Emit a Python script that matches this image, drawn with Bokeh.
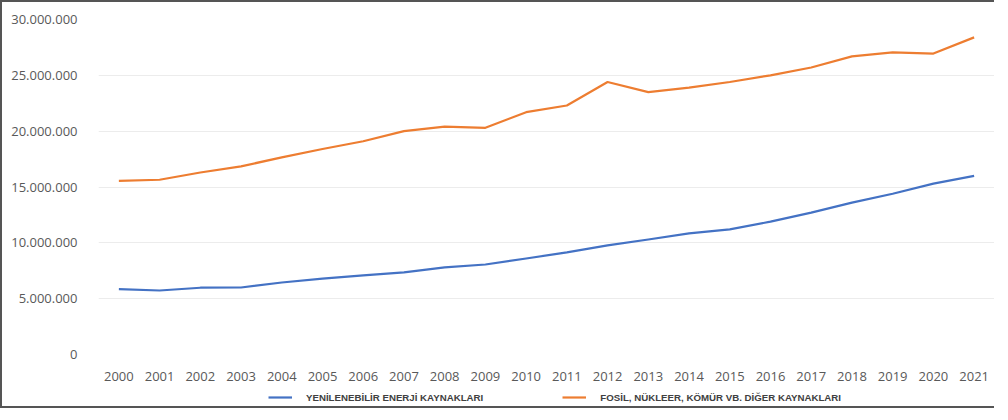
from bokeh.plotting import figure
from bokeh.layouts import column
from bokeh.models import FixedTicker, Legend, LegendItem, ColumnDataSource, Range1d
from bokeh.embed import file_html
from bokeh.resources import INLINE

years = [str(y) for y in range(2000, 2022)]
renewable = [5.85e6, 5.73e6, 5.98e6, 6.0e6, 6.45e6, 6.8e6, 7.08e6, 7.35e6, 7.8e6, 8.06e6, 8.6e6,
             9.14e6, 9.77e6, 10.3e6, 10.84e6, 11.2e6, 11.9e6, 12.7e6, 13.6e6, 14.4e6, 15.3e6, 16.0e6]
fossil = [15.55e6, 15.65e6, 16.3e6, 16.85e6, 17.65e6, 18.4e6, 19.1e6, 20.0e6, 20.4e6, 20.3e6, 21.7e6,
          22.3e6, 24.4e6, 23.5e6, 23.9e6, 24.4e6, 25.0e6, 25.7e6, 26.7e6, 27.05e6, 26.95e6, 28.4e6]
y_ticks = [0, 5e6, 10e6, 15e6, 20e6, 25e6, 30e6]
y_tick_labels = ["0", "5.000.000", "10.000.000", "15.000.000", "20.000.000", "25.000.000", "30.000.000"]
series_names = ["YENİLENEBİLİR ENERJİ KAYNAKLARI", "FOSİL, NÜKLEER, KÖMÜR VB. DİĞER KAYNAKLARI"]
series_colors = ["#4472C4", "#ED7D31"]

src = ColumnDataSource(dict(year=years, ren=renewable, fos=fossil))

p = figure(x_range=years, y_range=(0, 30e6), width=992, height=383,
           output_backend="svg", toolbar_location=None,
           min_border_left=96, min_border_right=0, min_border_top=17, min_border_bottom=31)
p.outline_line_color = None
p.background_fill_color = "white"
p.border_fill_color = "white"

p.line("year", "ren", source=src, line_color=series_colors[0], line_width=2.2)
p.line("year", "fos", source=src, line_color=series_colors[1], line_width=2.2)

p.xgrid.grid_line_color = None
p.ygrid.grid_line_color = "#ececec"
p.ygrid.grid_line_width = 1.2

p.yaxis.ticker = FixedTicker(ticks=y_ticks)
p.yaxis.major_label_overrides = {t: l for t, l in zip(y_ticks, y_tick_labels)}
for ax in (p.xaxis, p.yaxis):
    ax.axis_line_color = None
    ax.major_tick_line_color = None
    ax.minor_tick_line_color = None
    ax.major_label_text_font = "Open Sans"
    ax.major_label_text_font_size = "13px"
    ax.major_label_text_color = "#595959"
p.yaxis.major_label_standoff = 15
p.xaxis.major_label_standoff = 11

# legend strip below the chart (the series are drawn here too, but lie outside its view)
lg = figure(x_range=years, y_range=Range1d(1e9, 2e9), width=992, height=21,
            output_backend="svg", toolbar_location=None, x_axis_type=None, y_axis_type=None,
            min_border_left=0, min_border_right=0, min_border_top=0, min_border_bottom=0)
lg.outline_line_color = None
lg.xgrid.grid_line_color = None
lg.ygrid.grid_line_color = None
lr1 = lg.line("year", "ren", source=src, line_color=series_colors[0], line_width=2.2)
lr2 = lg.line("year", "fos", source=src, line_color=series_colors[1], line_width=2.2)

legend = Legend(items=[LegendItem(label=series_names[0], renderers=[lr1]),
                       LegendItem(label=series_names[1], renderers=[lr2])],
                orientation="horizontal", location=(170, 3),
                label_text_font="Liberation Sans", label_text_font_style="bold",
                label_text_font_size="9.7px", label_text_color="#404040",
                glyph_width=24, glyph_height=12, label_height=12, label_standoff=14,
                spacing=79, padding=2, margin=0, border_line_color=None,
                background_fill_alpha=0)
lg.add_layout(legend, "center")

layout = column(p, lg, spacing=0)
layout.styles = {"border-left": "2px solid #555", "border-top": "2px solid #555",
                 "border-bottom": "2px solid #555"}

open("out.html", "w").write(file_html(layout, INLINE))
